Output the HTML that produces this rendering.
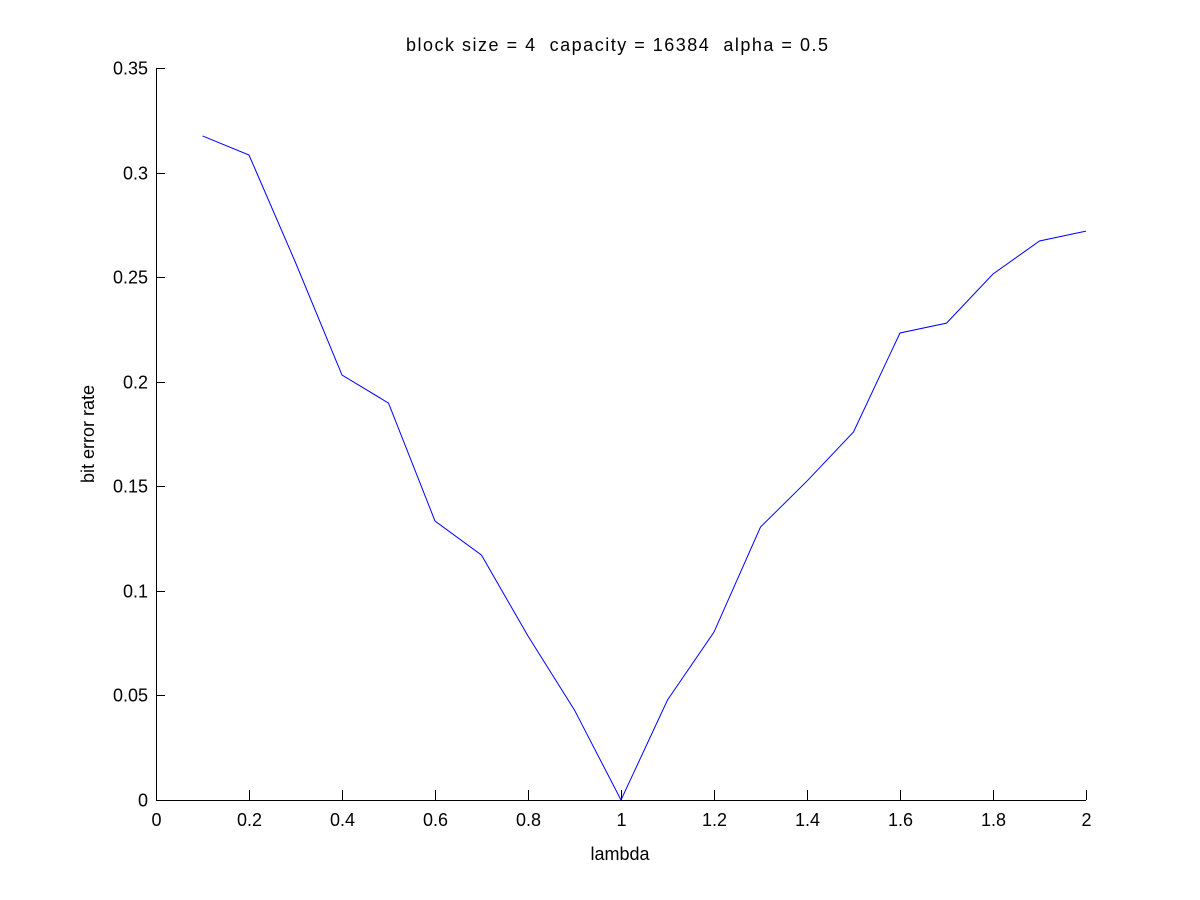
<!DOCTYPE html>
<html><head><meta charset="utf-8"><style>
html,body{margin:0;padding:0;background:#fff;}
svg{display:block;font-family:"Liberation Sans",sans-serif;}
</style></head><body>
<svg id="chart" width="1200" height="900"></svg>
<script>
const xValues=[0.1,0.2,0.3,0.4,0.5,0.6,0.7,0.8,0.9,1.0,1.1,1.2,1.3,1.4,1.5,1.6,1.7,1.8,1.9,2.0];
const berValues=[0.3175,0.3084,0.257,0.2032,0.1898,0.1334,0.1171,0.0784,0.043,0,0.0478,0.0803,0.1305,0.1525,0.176,0.2233,0.228,0.2515,0.2673,0.272];
const xTicks=[0,0.2,0.4,0.6,0.8,1,1.2,1.4,1.6,1.8,2];
const yTicks=[0,0.05,0.1,0.15,0.2,0.25,0.3,0.35];
const L=156,R=1086,T=68,B=800;
const sx=v=>L+(v-0)/2*(R-L);
const sy=v=>B-(v/0.35)*(B-T);
const svg=document.getElementById('chart');
const NS='http://www.w3.org/2000/svg';
function mk(tag,attrs,parent){const e=document.createElementNS(NS,tag);for(const k in attrs)e.setAttribute(k,attrs[k]);(parent||svg).appendChild(e);return e;}
const xAxis=mk('line',{x1:L,y1:B+0.5,x2:R,y2:B+0.5,stroke:'#000'});


const yAxis=mk('line',{x1:L+0.5,y1:T,x2:L+0.5,y2:B,stroke:'#000'});


xTicks.forEach(t=>{
  const x=Math.round(sx(t))+0.5;
  const g=mk('g',{});
  
  
  mk('line',{x1:x,y1:B,x2:x,y2:B-10,stroke:'#000'},g);
  const tx=mk('text',{x:x,y:B+26,'text-anchor':'middle','font-size':18},g);tx.textContent=String(t);
});
yTicks.forEach(t=>{
  const y=Math.round(sy(t))+0.5;
  const g=mk('g',{});
  
  
  mk('line',{x1:L,y1:y,x2:L+9,y2:y,stroke:'#000'},g);
  const tx=mk('text',{x:L-8,y:y+6,'text-anchor':'end','font-size':18},g);tx.textContent=String(t);
});
const pts=xValues.map((v,i)=>sx(v)+','+sy(berValues[i])).join(' ');
const line=mk('polyline',{points:pts,fill:'none',stroke:'#0000ff','stroke-width':1});


const title=mk('text',{x:406,y:51,'font-size':18,textLength:422,lengthAdjust:'spacing',style:'white-space:pre'});
title.textContent='block size = 4  capacity = 16384  alpha = 0.5';


const xl=mk('text',{x:620,y:860,'text-anchor':'middle','font-size':18});
xl.textContent='lambda';


const yl=mk('text',{x:94,y:434,'text-anchor':'middle','font-size':18,transform:'rotate(-90 94 434)'});
yl.textContent='bit error rate';


</script>
</body></html>
